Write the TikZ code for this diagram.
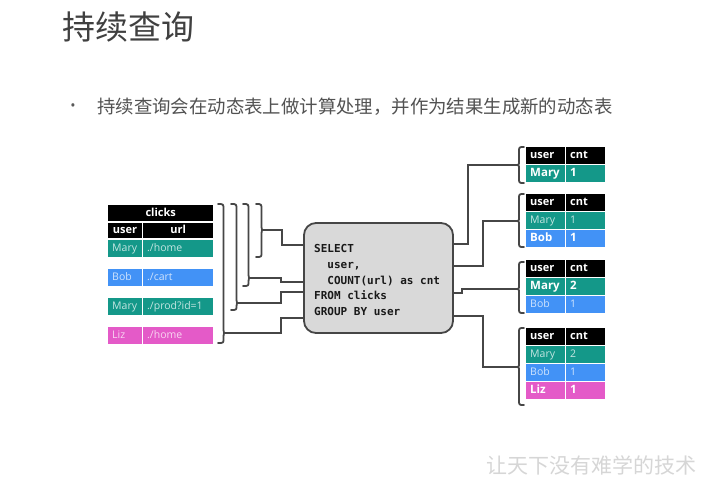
\documentclass[tikz,border=0pt]{standalone}
\usepackage{fontspec}
\setmainfont{Open Sans}
\setmonofont{DejaVu Sans Mono}
\newfontfamily\cjk{Noto Sans CJK SC}
\definecolor{tealc}{RGB}{20,152,137}
\definecolor{bluec}{RGB}{66,146,246}
\definecolor{pinkc}{RGB}{228,90,200}
\definecolor{linec}{RGB}{70,70,70}
\definecolor{boxc}{RGB}{217,217,217}
\newcommand\bracR[4]{%
  \draw[brc] (#1,#2) .. controls (#1+5.5,#2) .. (#1+5.5,#2+5.5) -- (#1+5.5,#3-3)
    .. controls (#1+5.5,#3) .. (#1+9,#3) .. controls (#1+5.5,#3) .. (#1+5.5,#3+3)
    -- (#1+5.5,#4-4.5) .. controls (#1+5.5,#4) .. (#1,#4);}
\newcommand\bracL[3]{%
  \draw[brc] (524,#1) .. controls (519,#1) .. (519,#1+5) -- (519,#2-3.5)
    .. controls (519,#2) .. (515,#2) .. controls (519,#2) .. (519,#2+3.5)
    -- (519,#3-5) .. controls (519,#3) .. (524,#3);}
\newcommand\rrow[6]{%
  \node[rcell, fill=#3, #4] (#1u) at (526,#2) {#5};
  \node[rcell, fill=#3, #4] (#1c) at (566,#2) {#6};}
\newcommand\lrow[5]{%
  \node[cell=25.5pt, fill=#3, old] (#1u) at (108,#2) {#4};
  \node[cell=62pt, fill=#3, old] (#1l) at (143,#2) {#5};}
\begin{document}
\begin{tikzpicture}[x=1pt,y=-1pt,
  cell/.style={anchor=north west, inner xsep=4pt, inner ysep=0pt,
    minimum height=16.5pt, text width=#1, align=left,
    text height=8pt, text depth=2.4pt, text=white},
  rcell/.style={cell=30.5pt},
  hd/.style={font=\bfseries\fontsize{11}{12}\selectfont, text=white},
  new/.style={font=\bfseries\fontsize{11.5}{12}\selectfont, text=white},
  old/.style={font=\fontsize{10.5}{12}\selectfont, text opacity=0.75},
  brc/.style={draw=linec, line width=1.8pt, line cap=round, line join=round},
  conn/.style={draw=linec, line width=1.8pt, line join=miter}]
\useasboundingbox (0,0) rectangle (719,480);
\fill[white] (0,0) rectangle (719,480);

% titles
\node[anchor=west, inner sep=0, font=\cjk\fontsize{33}{33}\selectfont, text=black!75] (title) at (62,27) {持续查询};
\node[inner sep=0, font=\fontsize{14}{14}\selectfont, text=black!65] (bul) at (73,107) {•};
\node[anchor=west, inner sep=0, font=\cjk\fontsize{18.4}{20}\selectfont, text=black!68] (txt) at (97,107) {持续查询会在动态表上做计算处理，并作为结果生成新的动态表};

% left table
\node[cell=97pt, fill=black, hd, align=center, minimum height=16pt] (clk) at (108,205) {clicks};
\node[cell=25.5pt, fill=black, hd, align=center, minimum height=15pt] (hu) at (108,223) {user};
\node[cell=62pt, fill=black, hd, align=center, minimum height=15pt] (hl) at (143,223) {url};
\lrow{r1}{240}{tealc}{Mary}{./home}
\lrow{r2}{269}{bluec}{Bob}{./cart}
\lrow{r3}{298}{tealc}{Mary}{./prod?id=1}
\lrow{r4}{327}{pinkc}{Liz}{./home}

% left braces
\bracR{218}{204}{333}{343}
\bracR{231}{204}{303}{310}
\bracR{243}{204}{278}{286}
\bracR{256}{204}{230}{257}
\coordinate (lt1) at (227,333);
\coordinate (lt2) at (240,303);
\coordinate (lt3) at (252,278);
\coordinate (lt4) at (265,230);

% query box
\node[draw=linec, fill=boxc, line width=1.8pt, rounded corners=12pt,
  minimum width=149pt, minimum height=110pt, inner sep=0] (box) at (378.5,278) {};
\node[anchor=west, inner sep=0, align=left, text=black!90,
  font=\ttfamily\bfseries\fontsize{11}{15.8}\selectfont] (sql) at (314,280)
  {SELECT\\\hphantom{XX}user,\\\hphantom{XX}COUNT(url) as cnt\\FROM clicks\\GROUP BY user};
\coordinate (pin1) at (304,318);
\coordinate (pin2) at (304,292);
\coordinate (pin3) at (304,282);
\coordinate (pin4) at (304,245);
\coordinate (pout1) at (453,244);
\coordinate (pout2) at (453,266);
\coordinate (pout3) at (453,293);
\coordinate (pout4) at (453,316);

% left connectors
\draw[conn] (lt1) -- ++(54,0) |- (pin1);
\draw[conn] (lt2) -- ++(41,0) |- (pin2);
\draw[conn] (lt3) -- ++(29,0) |- (pin3);
\draw[conn] (lt4) -- ++(17,0) |- (pin4);

% right braces
\bracL{147}{165}{183}
\bracL{194}{221}{247}
\bracL{262}{289}{313}
\bracL{328}{367}{405}
\coordinate (rt1) at (515,165);
\coordinate (rt2) at (515,221);
\coordinate (rt3) at (515,289);
\coordinate (rt4) at (515,367);

% right connectors
\draw[conn] (pout1) -- ++(15,0) |- (rt1);
\draw[conn] (pout2) -- ++(30,0) |- (rt2);
\draw[conn] (pout3) -- ++(9,0) |- (rt3);
\draw[conn] (pout4) -- ++(30,0) |- (rt4);

% right tables
\rrow{a0}{147}{black}{hd}{user}{cnt}
\rrow{a1}{165}{tealc}{new}{Mary}{1}

\rrow{b0}{194}{black}{hd}{user}{cnt}
\rrow{b1}{212}{tealc}{old}{Mary}{1}
\rrow{b2}{230}{bluec}{new}{Bob}{1}

\rrow{c0}{260}{black}{hd}{user}{cnt}
\rrow{c1}{278}{tealc}{new}{Mary}{2}
\rrow{c2}{296}{bluec}{old}{Bob}{1}

\rrow{d0}{328}{black}{hd}{user}{cnt}
\rrow{d1}{346}{tealc}{old}{Mary}{2}
\rrow{d2}{364}{bluec}{old}{Bob}{1}
\rrow{d3}{382}{pinkc}{new}{Liz}{1}

% watermark
\node[anchor=west, inner sep=0, font=\cjk\fontsize{21}{21}\selectfont, text=black!16] (wm) at (486,465) {让天下没有难学的技术};
\end{tikzpicture}
\end{document}
